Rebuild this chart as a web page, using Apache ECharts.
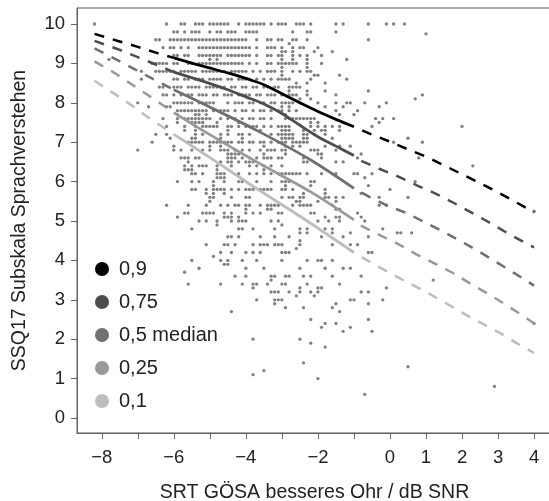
<!DOCTYPE html>
<html><head><meta charset="utf-8">
<style>html,body{margin:0;padding:0;background:#fff;overflow:hidden}#c{width:549px;height:501px}</style>
<script src="https://cdn.jsdelivr.net/npm/echarts@6/dist/echarts.min.js"></script>
</head><body><div id="c"></div>
<script>
const xTicks=[-8,-7,-6,-5,-4,-3,-2,-1,0,1,2,3,4];
const xLabels=[-8,-6,-4,-2,0,1,2,3,4];
const yTicks=[0,1,2,3,4,5,6,7,8,9,10];
const xName='SRT GÖSA besseres Ohr / dB SNR';
const yName='SSQ17 Subskala Sprachverstehen';
const legendNames=['0,9','0,75','0,5 median','0,25','0,1'];
const lineColors=['#000000','#4d4d4d','#707070','#999999','#bdbdbd'];
// quantile curves: [SRT, SSQ]
const q90=[[-8.2,9.75],[-7.55,9.57],[-7,9.42],[-6.45,9.26],[-6,9.14],[-5.2,8.93],[-4.5,8.76],[-4,8.62],[-3.5,8.46],[-3,8.23],[-2.5,8],[-2,7.78],[-1.5,7.58],[-1,7.39],[-0.6,7.23],[-0.05,7.03],[0.47,6.83],[1.03,6.62],[1.53,6.4],[2.03,6.17],[2.55,5.94],[3.05,5.7],[3.55,5.45],[4,5.22]];
const q75=[[-8.2,9.57],[-7.55,9.36],[-7,9.16],[-6.47,8.96],[-6,8.78],[-5.2,8.55],[-4.5,8.33],[-4,8.15],[-3.5,7.97],[-3,7.73],[-2.5,7.43],[-2,7.14],[-1.5,6.9],[-1,6.66],[-0.78,6.52],[-0.28,6.32],[0.25,6.12],[0.76,5.9],[1.28,5.69],[1.79,5.45],[2.29,5.2],[2.8,4.94],[3.3,4.67],[3.8,4.42],[4,4.33]];
const q50=[[-8.2,9.38],[-7.6,9.1],[-7.08,8.85],[-6.57,8.6],[-6,8.33],[-5.2,7.98],[-3.7,7.3],[-2.2,6.55],[-1,5.83],[-0.55,5.6],[-0.05,5.38],[0.47,5.2],[1,4.95],[1.5,4.72],[2,4.47],[2.5,4.21],[3,3.93],[3.5,3.65],[4,3.36]];
const q25=[[-8.2,9.05],[-7.63,8.75],[-7.14,8.45],[-6.64,8.15],[-6,7.75],[-5.2,7.3],[-3.7,6.5],[-2.2,5.74],[-1,5.03],[-0.78,4.87],[-0.28,4.64],[0.22,4.42],[0.72,4.16],[1.22,3.93],[1.75,3.68],[2.25,3.4],[2.73,3.15],[3.22,2.87],[3.7,2.59],[4,2.4]];
const q10=[[-8.2,8.56],[-7.6,8.2],[-7.14,7.92],[-6.7,7.62],[-6,7.2],[-4.9,6.55],[-3.7,5.82],[-2.5,5.12],[-1,4.2],[-0.44,3.9],[0.06,3.65],[0.58,3.4],[1.06,3.17],[1.58,2.9],[2.05,2.65],[2.55,2.4],[3.05,2.16],[3.55,1.88],[4,1.65]];
// responses: [SSQ, [SRT in tenths of dB ...]]
const dotRows=[
[10,[-82,-62,-58,-57,-54,-53,-52,-50,-49,-48,-47,-46,-45,-42,-40,-39,-38,-37,-36,-35,-33,-31,-30,-29,-26,-25,-24,-22,-15,-13,-6,-1,1,4]],
[9.8,[-60,-59,-57,-55,-54,-53,-50,-48,-47,-45,-44,-43,-40,-39,-38,-37,-27,-23,-22,-15]],
[9.75,[10]],
[9.6,[-65,-64,-61,-60,-59,-58,-57,-56,-55,-54,-53,-52,-51,-50,-49,-48,-47,-46,-45,-44,-43,-42,-41,-40,-37,-34,-33,-31,-30,-27,-26,-23,-6]],
[9.5,[-28]],
[9.4,[-63,-61,-60,-58,-56,-53,-52,-51,-50,-49,-48,-47,-46,-45,-44,-43,-42,-41,-40,-39,-37,-34,-33,-32,-30,-27,-25,-24,-20]],
[9.3,[-30,-29,-27,-21,-16]],
[9.2,[-60,-59,-57,-56,-53,-52,-51,-50,-49,-48,-47,-45,-44,-43,-42,-41,-40,-39,-37,-34,-33,-31,-30,-27,-25,-23,-19]],
[9.1,[-78,-50,-48,-30,-27,-23,-12]],
[9,[-66,-65,-64,-63,-62,-60,-59,-56,-55,-53,-52,-51,-50,-49,-48,-47,-46,-45,-44,-43,-42,-41,-39,-37,-34,-33,-31,-30,-29,-28,-27,-26,-23,-19]],
[8.9,[-30,-23]],
[8.8,[-69,-65,-64,-63,-62,-61,-60,-58,-57,-56,-55,-54,-52,-51,-50,-49,-48,-47,-46,-44,-43,-42,-41,-40,-38,-36,-34,-33,-32,-30,-27,-25,-23,-22]],
[8.7,[-30,-21,-20,-14]],
[8.6,[-69,-60,-59,-57,-56,-54,-53,-52,-50,-49,-48,-47,-45,-44,-42,-41,-40,-39,-37,-35,-33,-31,-30,-29,-28,-22,-12]],
[8.5,[-26,-23,-18]],
[8.4,[-64,-63,-60,-59,-58,-56,-55,-54,-53,-51,-50,-49,-48,-47,-46,-44,-43,-41,-40,-38,-37,-35,-34,-32,-31,-28,-27,-26,-25]],
[8.3,[-28,-23,-18,-6]],
[8.2,[-63,-62,-60,-58,-56,-55,-53,-52,-51,-49,-48,-46,-45,-44,-42,-41,-40,-39,-37,-36,-34,-33,-32,-30,-28,-27,-26,-23,-15,9]],
[8.1,[-25,-22,7]],
[8,[-70,-60,-59,-58,-57,-56,-55,-53,-52,-51,-50,-49,-45,-43,-42,-41,-39,-38,-36,-35,-33,-32,-30,-29,-28,-27,-25,-20,-15,-12,-11,-7,-1]],
[7.9,[-67,-62,-61,-30,-28,-18,-13,-3]],
[7.8,[-59,-58,-57,-56,-55,-54,-53,-52,-51,-49,-47,-46,-45,-43,-41,-40,-38,-36,-35,-33,-31,-30,-28,-26,-15,-9]],
[7.7,[-59,-54,-53,-51,-29,-14,-10]],
[7.6,[-63,-59,-57,-56,-55,-54,-53,-52,-51,-50,-47,-45,-43,-41,-39,-38,-36,-35,-33,-29,-28,-27,-26,-25,-24,-23,-22,-21,-4,-2,1]],
[7.5,[-59,-55,-54,-53,-52,-48,-42,-22,-20,-3]],
[7.4,[-62,-57,-54,-52,-51,-50,-49,-48,-45,-44,-42,-40,-39,-38,-37,-35,-33,-31,-30,-29,-28,-22,-20,-18,-16,-14,-5,20]],
[7.3,[-57,-54,-45,-36,-30,-29,-28,-24,-21,-19,-18,-14]],
[7.2,[-65,-62,-54,-52,-47,-45,-42,-41,-39,-33,-31,-30,-29,-28,-27,-24,-23,-21,-18]],
[7.1,[-61,-55,-54,-47,-41,-30,-29,-28,-27,-24,-23,-16,5]],
[7,[-66,-56,-55,-54,-53,-52,-50,-49,-48,-47,-46,-45,-44,-42,-41,-39,-38,-36,-35,-33,-31,-30,-29,-27,-26,-25,-24,-23,1,9]],
[6.9,[-60,-50,-47,-35,-29,-27,-25,-18,-14,-11]],
[6.8,[-70,-60,-58,-55,-52,-50,-47,-46,-45,-43,-41,-39,-36,-34,-33,-32,-30,-29,-22,-21,-20,-15]],
[6.7,[-45,-44,-43,-42,-35,-29,-20,-19,-8]],
[6.6,[-58,-57,-56,-54,-53,-45,-44,-43,-41,-39,-37,-35,-34,-33,-31,-30,-24,-19,-9,8]],
[6.5,[-56,-47,-45,-44,-42,-40,-39,-38,-24,-23,-15,-13]],
[6.4,[-57,-55,-53,-52,-51,-48,-44,-39,-37,-35,-33,-30,23]],
[6.3,[-57,-56,-55,-48,-35]],
[6.2,[-55,-54,-52,-48,-47,-46,-42,-39,-37,-35,-33,-31,-30,-29,-28,-27,-26,-25,-23,-19,-15,-10,-9,-5]],
[6.1,[-48,-47,-46,-7]],
[6,[-59,-55,-53,-49,-46,-42,-41,-37,-33,-30,-29,-28,-22,-21,7]],
[5.9,[-49,-29,-22,-6]],
[5.8,[-55,-54,-51,-49,-48,-47,-46,-44,-42,-40,-39,-38,-36,-35,-34,-33,-30,-29,-27,-18,0]],
[5.7,[-51,-49,-46,-24,-18,-8]],
[5.6,[-50,-49,-44,-40,-39,-30,-28,-27,-25,-24,-18,-17,-15,-13,-3,5]],
[5.5,[-50,-26,-25,-20,-15]],
[5.4,[-62,-56,-51,-47,-45,-43,-42,-40,-39,-36,-34,-33,-32,-31,-27,-25,-24,-23,-22,-16,-3,-1]],
[5.3,[-40,-34,-33,-15,-14]],
[5.2,[-57,-56,-52,-51,-50,-49,-46,-44,-40,-38,-36,-31,-30,-22,-21,-9]],
[5.1,[-59,-46,-45,-44,-42,-18,-15,-14,-8]],
[5,[-53,-51,-48,-44,-42,-41,-40,-33,-31,-20,-17,-14,-7]],
[4.9,[-48,-30]],
[4.8,[-55,-42,-41,-38,-32,-25,-23,-18,-16,-2]],
[4.7,[-25,-23,-16,-11,2,3,6]],
[4.6,[-45,-44,-42,-36,-32,-28,-19,-13,-6]],
[4.5,[-25]],
[4.4,[-51,-46,-45,-43,-38,-36,-35,-34,-32,-31,-30,-25,-16,-11,-9]],
[4.3,[-26]],
[4.2,[-47,-44,-40,-38,-36,-30,-29,-28,-6,-5]],
[4.1,[-49]],
[4,[-55,-47,-45,-41,-37,-30,-23,-20,-19,-16]],
[3.9,[-46,-45]],
[3.8,[-53,-40,-35,-25,-18,-13,-11]],
[3.7,[-57]],
[3.6,[-43,-40,-33,-32,-29,-28,-24,-22,-16,-8]],
[3.5,[-33,12]],
[3.4,[-56,-47,-41,-38,-37,-34,-30,-29,-23,-14]],
[3.3,[-38,-25,-20,-19,-1]],
[3.2,[-33,-32,-31,-28,-25,-22,-20,-8,-6]],
[3.1,[-26,-21]],
[3,[-37,-32,-31,-30,-11,-10,-2]],
[2.9,[-32,-15,-6]],
[2.8,[-29,-24,-16]],
[2.7,[-44,-14]],
[2.5,[-22,-6]],
[2.4,[-18,-15,40]],
[2.3,[-19,-11]],
[2.2,[-13,-5]],
[2,[-38,-25]],
[1.9,[-22]],
[1.8,[-18]],
[1.4,[-24]],
[1.3,[5]],
[1.2,[-35]],
[1.1,[-38]],
[1,[-20]],
[0.8,[29]],
[0.6,[-7]],
[5.25,[40]]
];
const dots=[];
dotRows.forEach(r=>r[1].forEach(t=>dots.push([t/10,r[0]])));
const curves=[q90,q75,q50,q25,q10];
const series=[{type:'scatter',data:dots,symbol:'circle',symbolSize:3.3,itemStyle:{color:'#606060'},silent:true,z:1}];
curves.forEach((q,i)=>{
  const col=lineColors[i];
  series.push({type:'line',data:q.filter(p=>p[0]<=-6),showSymbol:false,silent:true,z:3,
    lineStyle:{color:col,width:2.5,type:[10,9],cap:'butt'}});
  series.push({type:'line',data:q.filter(p=>p[0]>=-1),showSymbol:false,silent:true,z:3,
    lineStyle:{color:col,width:2.5,type:[10,9],dashOffset:10,cap:'butt'}});
  series.push({type:'line',name:legendNames[i],data:q.filter(p=>p[0]>=-6&&p[0]<=-1),showSymbol:false,silent:true,z:4,smooth:0.3,
    itemStyle:{color:col},lineStyle:{color:col,width:2.8}});
});
const chart=echarts.init(document.getElementById('c'),null,{renderer:'canvas'});
const fontF='"Liberation Sans",Arial,sans-serif';
chart.setOption({
  animation:false,
  backgroundColor:'#fff',
  grid:{show:true,left:77,top:8,width:475,height:425,outerBoundsMode:'none',borderColor:'#555',borderWidth:1,backgroundColor:'transparent'},
  xAxis:{type:'value',min:-8.687,max:4.497,name:xName,nameLocation:'middle',nameGap:50,
    nameTextStyle:{fontFamily:fontF,fontSize:19.5,color:'#222'},splitLine:{show:false},
    axisLine:{show:true,onZero:false,lineStyle:{color:'#666',width:1}},
    axisTick:{show:true,length:6,customValues:xTicks,lineStyle:{color:'#666'}},
    axisLabel:{customValues:xLabels,fontFamily:fontF,fontSize:18.5,color:'#222',margin:15,showMinLabel:true,showMaxLabel:true,
      formatter:v=>String(v).replace('-','\u2212')}},
  yAxis:{type:'value',min:-0.381,max:10.406,name:yName,nameLocation:'middle',nameGap:47,
    nameTextStyle:{fontFamily:fontF,fontSize:19.5,color:'#222'},splitLine:{show:false},
    axisLine:{show:true,onZero:false,lineStyle:{color:'#666',width:1}},
    axisTick:{show:true,length:6,customValues:yTicks,lineStyle:{color:'#666'}},
    axisLabel:{customValues:yTicks,fontFamily:fontF,fontSize:18.5,color:'#222',margin:12}},
  legend:{show:true,data:legendNames,orient:'vertical',left:90,top:254,icon:'circle',itemWidth:14,itemHeight:14,itemGap:13,
    selectedMode:false,textStyle:{fontFamily:fontF,fontSize:20,color:'#222',padding:[0,0,0,5]}},
  series:series
});
</script></body></html>
